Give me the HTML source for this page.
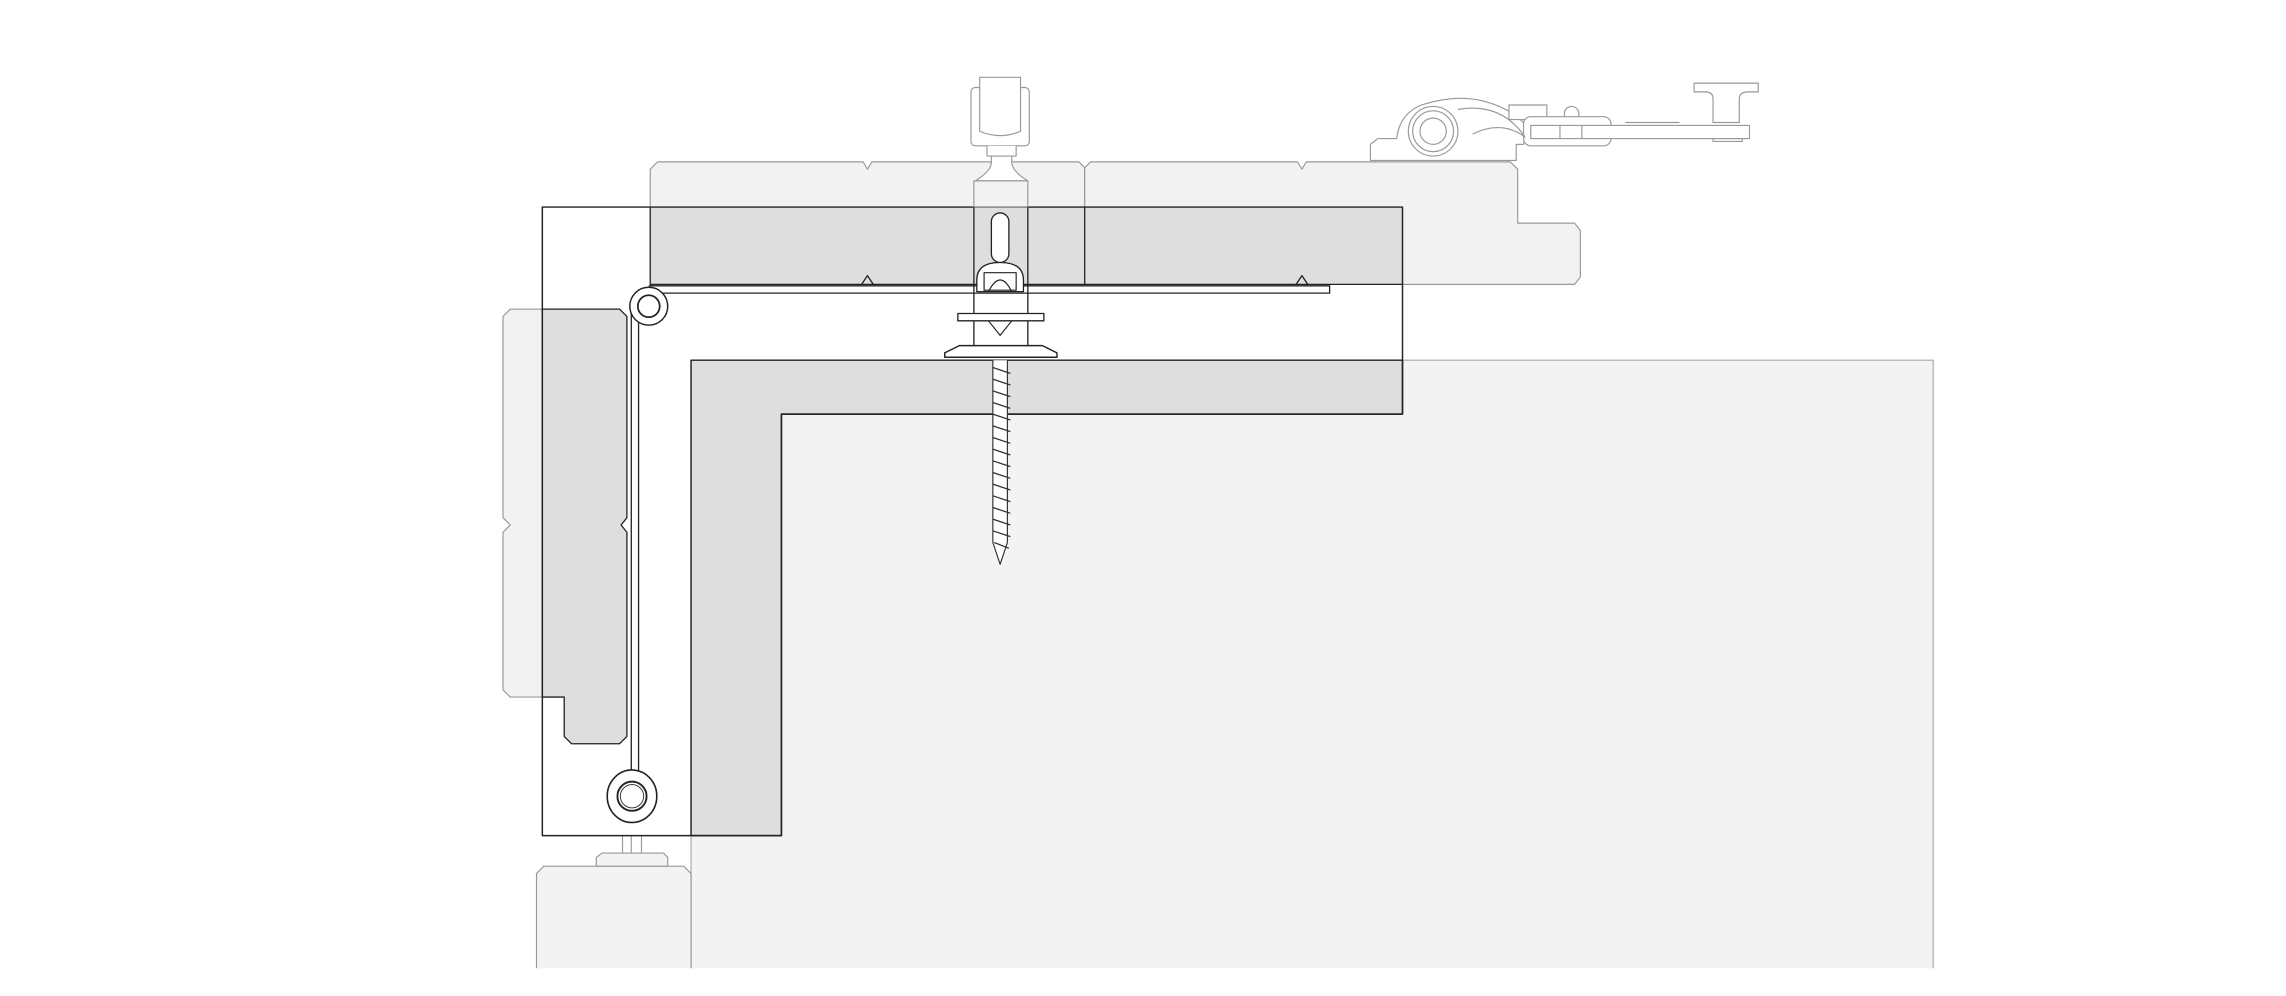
<!DOCTYPE html>
<html><head><meta charset="utf-8"><style>html,body{margin:0;padding:0;background:#fff}svg{display:block}</style></head>
<body>
<svg width="2286" height="996" viewBox="0 0 1568 683" preserveAspectRatio="none" xmlns="http://www.w3.org/2000/svg" fill="none" stroke-linejoin="round">
<!-- big background panel -->
<rect x="474" y="247" width="852" height="417" fill="#f3f3f3" stroke="none"/>
<path d="M474,664 V247 H1326 V664" stroke="#aaa" stroke-width="0.8"/>
<!-- bottom-left board -->
<path d="M368,664 V599 L373,594 H469 L474,599 V664" fill="#f3f3f3" stroke="#999" stroke-width="0.8"/>
<path d="M409,594 V588 L413,585 H455 L458,588 V594 Z" fill="#f3f3f3" stroke="#999" stroke-width="0.8"/>
<path d="M427,585 V560 M433,585 V560 M440,585 V560" stroke="#999" stroke-width="0.8"/>
<!-- top boards -->
<path d="M451,111 H592 L595,116 L598,111 H740 L744,115 V195 H740 L595,195 L451,195 L446,190 V116 Z" fill="#f2f2f2" stroke="#999" stroke-width="0.8"/>
<path d="M748,111 H890 L893,116 L896,111 H1036 L1041,116 V153 H1080 L1084,158 V190 L1080,195 H748 L744,190 V115 Z" fill="#f2f2f2" stroke="#999" stroke-width="0.8"/>
<!-- left board -->
<path d="M350,212 H425 L430,217 V355 L426,360 L430,365 V473 L425,478 H350 L345,473 V365 L350,360 L345,355 V217 Z" fill="#f2f2f2" stroke="#999" stroke-width="0.8"/>
<!-- white interior of bracket -->
<path d="M372,142 H962 V284 H536 V573 H372 Z" fill="#fff" stroke="none"/>
<!-- dark overlaps -->
<path d="M446,142 H962 V195 H446 Z" fill="#dedede" stroke="none"/>
<path d="M372,212 H425 L430,217 V355 L426,360 L430,365 V505 L425,510 H392 L387,505 V478 H372 Z" fill="#dedede" stroke="#222" stroke-width="0.9"/>
<path d="M744,142 V195" stroke="#222" stroke-width="0.9"/>
<path d="M446,142 V195 H962" stroke="#222" stroke-width="0.9"/>
<path d="M591,195 L595,189 L599,195 M889,195 L893,189 L897,195" stroke="#222" stroke-width="0.9"/>
<!-- L-shape -->
<path d="M474,247 H962 V284 H536 V573 H474 Z" fill="#dedede" stroke="#222" stroke-width="1"/>
<!-- outer bracket outline -->
<path d="M372,142 H962 V284 H536 V573 H372 Z" fill="none" stroke="#222" stroke-width="1"/>
<!-- plate strips -->
<path d="M445,196 H912 V201 H445" fill="#fff" stroke="#222" stroke-width="0.9"/>
<rect x="433" y="210" width="5" height="335" fill="#fff" stroke="#222" stroke-width="0.9"/>
<circle cx="445" cy="210" r="13" fill="#fff" stroke="#222" stroke-width="1"/>
<circle cx="445" cy="210" r="7.5" fill="#fff" stroke="#222" stroke-width="1.2"/>
<ellipse cx="433.5" cy="546" rx="17" ry="18" fill="#fff" stroke="#222" stroke-width="1.1"/>
<circle cx="433.5" cy="546" r="10" fill="#fff" stroke="#222" stroke-width="1.3"/>
<circle cx="433.5" cy="546" r="8" fill="none" stroke="#222" stroke-width="0.6"/>
<!-- screw housing top knob -->
<rect x="666" y="60" width="40" height="40" rx="3" fill="#fff" stroke="#999" stroke-width="0.8"/>
<path d="M672,53 H700 V90 Q686,96 672,90 Z" fill="#fff" stroke="#999" stroke-width="0.8"/>
<path d="M677,100 V107 H697 V100 M680,107 V112 Q679,118 669,124 H705 Q695,118 694,112 V107" fill="#fff" stroke="#999" stroke-width="0.8"/>
<rect x="668" y="124" width="37" height="18" fill="none" stroke="#999" stroke-width="0.8"/>
<path d="M668,142 V240 M705,142 V240" stroke="#222" stroke-width="0.9"/>
<rect x="680" y="146" width="12" height="34" rx="6" fill="#fff" stroke="#222" stroke-width="0.9"/>
<path d="M670,200 V192 Q670,180 686,180 Q702,180 702,192 V200 Z" fill="#fff" stroke="#222" stroke-width="0.9"/>
<rect x="675" y="187" width="22" height="12" fill="none" stroke="#222" stroke-width="0.8"/>
<path d="M678,200 Q686,184 694,200" stroke="#222" stroke-width="0.8"/>
<rect x="657" y="215" width="59" height="5" fill="#fff" stroke="#222" stroke-width="0.9"/>
<path d="M678,220 L686,230 L694,220" stroke="#222" stroke-width="0.8"/>
<path d="M648,245 H725 V242 L715,237 H658 L648,242 Z" fill="#fff" stroke="#222" stroke-width="1"/>
<!-- screw shaft -->
<path d="M681,247 V372 L686,387 L691,372 V247" fill="#fff" stroke="#333" stroke-width="0.8"/>
<path d="M681,252 L693,256 M681,260 L693,264 M681,268 L693,272 M681,276 L693,280 M681,284 L693,288 M681,292 L693,296 M681,300 L693,304 M681,308 L693,312 M681,316 L693,320 M681,324 L693,328 M681,332 L693,336 M681,340 L693,344 M681,348 L693,352 M681,356 L693,360 M681,364 L693,368 M682,372 L692,376" stroke="#333" stroke-width="0.9"/>
<!-- hinge top right -->
<path d="M940,110 V99 L945,95 H958 Q960,78 975,72 Q1000,64 1020,70 Q1040,76 1048,88 L1045,99 H1040 V110 Z" fill="#fff" stroke="#999" stroke-width="0.8"/>
<rect x="1035" y="72" width="26" height="10" fill="#fff" stroke="#999" stroke-width="0.8"/>
<circle cx="1078" cy="78" r="5" fill="#fff" stroke="#999" stroke-width="0.8"/>
<rect x="1045" y="80" width="60" height="20" rx="5" fill="#fff" stroke="#999" stroke-width="0.8"/>
<path d="M1050,86 H1200 V95 H1050 Z M1070,86 V95 M1085,86 V95 M1115,84 H1152" fill="#fff" stroke="#999" stroke-width="0.8"/>
<path d="M1175,84 V68 Q1175,63 1170,63 H1162 V57 H1206 V63 H1199 Q1193,63 1193,68 V84 Z" fill="#fff" stroke="#999" stroke-width="0.8"/>
<path d="M1175,95 H1195 V97 H1175 Z" stroke="#999" stroke-width="0.8"/>
<path d="M1000,75 Q1030,70 1046,94 Q1030,82 1010,92" fill="#fff" stroke="#999" stroke-width="0.8"/>
<circle cx="983" cy="90" r="17" fill="#fff" stroke="#999" stroke-width="0.8"/>
<circle cx="983" cy="90" r="14" fill="none" stroke="#999" stroke-width="0.8"/>
<circle cx="983" cy="90" r="9" fill="#fff" stroke="#999" stroke-width="0.8"/>
</svg>
</body></html>
